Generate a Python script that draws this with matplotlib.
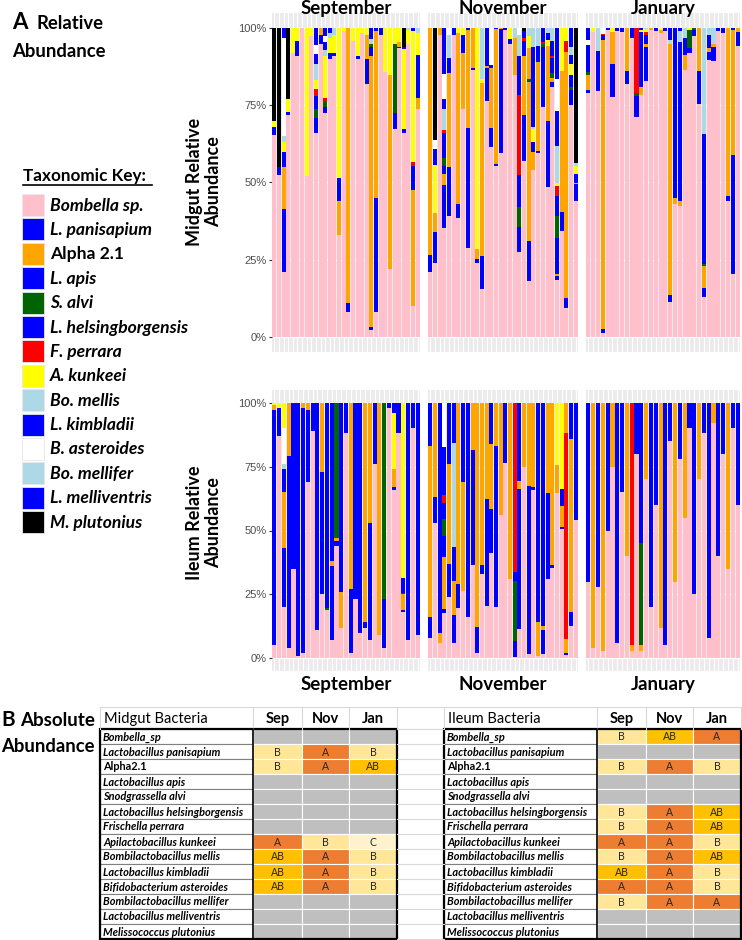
import matplotlib
matplotlib.use("Agg")
import matplotlib.pyplot as plt
from matplotlib.patches import Rectangle
import numpy as np

plt.rcParams['font.family'] = ['Lato', 'DejaVu Sans']

W, H = 742, 940

# ---- data -------------------------------------------------------------
taxa = ['Bombella sp.', 'L. panisapium', 'Alpha 2.1', 'L. apis', 'S. alvi',
        'L. helsingborgensis', 'F. perrara', 'A. kunkeei', 'Bo. mellis',
        'L. kimbladii', 'B. asteroides', 'Bo. mellifer', 'L. melliventris',
        'M. plutonius']
taxa_colors = ['#FFC0CB', '#0000FF', '#FFA500', '#0000FF', '#006400', '#0000FF',
               '#FF0000', '#FFFF00', '#ADD8E6', '#0000FF', '#FFFFFF', '#ADD8E6',
               '#0000FF', '#000000']
# segment codes -> colour (P Bombella, B Lactobacillus blues, O Alpha2.1,
# G S. alvi, R F. perrara, Y A. kunkeei, L Bo. mellis/mellifer, W B. asteroides, K M. plutonius)
seg_colors = {'P': '#FFC0CB', 'B': '#0000FF', 'O': '#FFA500', 'G': '#006400',
              'R': '#FF0000', 'Y': '#FFFF00', 'L': '#ADD8E6', 'W': '#FFFFFF',
              'K': '#000000'}

months = ['September', 'November', 'January']

# bars, bottom -> top, percent per segment
midgut_sep = [
    'P65.5 B2.5 Y2 K30', 'P52.5 B2.5 K45', 'P21 B20.5 O13.5 B5 Y3 L2 W32 B3',
    'P72 B1 Y4 K23', 'P92 Y8', 'P91 B5 Y4', 'P100', 'P52 Y48', 'P97.5 Y2.5',
    'P66 B5 G3 B4 R2.5 Y2.7 L5.4 B3.2 W2.7 B5.5', 'P95 B3 O2',
    'P72.5 B2 G2 R1 Y13.5 L2 B2.5 W2 B2.5', 'P90 B2 Y5 L1.5 B1.5',
    'P91 B1 Y6 L2', 'P33 O11 B7.5 Y48.5', 'P99 Y1', 'P8 B3 O89', 'P96 Y4',
    'P90 B1 Y9', 'P98.5 Y1.5', 'P82 B8 O8 Y2', 'P2 B1 O88 B3 G1 L1.5 B3.5',
    'P8 B37 O54 B1', 'P98 B2', 'P86 Y14', 'P22 O63 Y15', 'P67.5 B5 G22.5 Y5',
    'P93.5 B0.5 O1.5 Y4.5', 'P66 B1.5 Y25.7 B0.8 K6', 'P95 Y4.5 L0.5',
    'P10 O37.5 B8 R1 Y42.5 B1', 'P74 O3.5 B14 Y7 L1.5',
]
midgut_nov = [
    'P21 B5.5 O73.5', 'P24 B10 O6 Y15.7 B5.3 W2.8 K36.2', 'P98 O2',
    'P35 B14 O3.5 B2.7 G2.7 B8 R0.8 L7 B3.2 W8 B14.8', 'P39 B16 O30.5 B5 L7.5 W2',
    'P98 B2', 'P38.6 B4.3 O55.7 Y1.4', 'P74 O18 B6 Y2', 'P28.6 B39 O31.8 B0.6',
    'P86.5 B0.5 O13', 'P23.8 B1.4 O3.3 Y71.5', 'P15.6 B10.4 O56.3 Y1.3 L16.4',
    'P76.5 B10.8 O0.5 B12.2', 'P61.7 B6.2 O19.2 B1.1 W11.9', 'P55.4 B0.5 O43.9 B0.2',
    'P59.7 B40 O0.3', 'P99.5 B0.5', 'P95 B1.5 Y3.5', 'P85 O12 L3',
    'P27.6 B8.1 G6.2 B10.6 R25.9 B12.8 L6.5 W2.3', 'P57 B15 O19 B5 R1 B2 K1',
    'P18 B13 O51.5 G1 O10 Y4 L2.5', 'P54 O6 B3 Y4.5 L0.5 B26 L6',
    'P59.7 B0.5 O28.8 B5.4 L5.6', 'P74.5 B19.5 G1 R0.5 B4.5',
    'P48.4 B21.6 O24.4 Y2 B2 L1.6', 'P81 B1.5 O1.5 G1.5 B5 R0.5 B5 L4',
    'P18.4 B1.3 O0.5 B11.9 G7 B6.5 R3.2 Y1.1 L11.9 B11.4 W10.3 B16.5',
    'P34.3 B6 O46 Y13.7', 'P9.4 B3.2 O79.8 R3.6 Y4',
    'P75 B5 G1 B4 Y3.5 B3 L2.5 B6', 'P44 B5.4 O0.5 B2.7 Y2.7 L1.1 K43.6',
]
midgut_jan = [
    'P79 B1 O5 G1 B8.7 W1.6 B3.7', 'P98.7 Y1.3', 'P79.8 B13 L7.2',
    'P1.3 B1.1 O94 B1.5 R0.3 W1.8', 'P99.5 B0.5', 'P77.6 B10.8 O10.3 Y1.3',
    'P99 B1', 'P98.7 B1.3', 'P82 B4.3 O13.7', 'P97 B3', 'P71.1 B7.1 G0.8 R21',
    'P78.4 O2.5 B18 Y0.5 B0.6', 'P83 B11 O1 B2.7 R1 Y1 L0.3', 'P99.5 O0.5',
    'P99 B1', 'P98.5 O1 Y0.5', 'P99 B1', 'P11.3 B2.2 O81.3 L1.6 B3.6',
    'P43 O2 B55', 'P42.5 O1.6 B51.4 L3.8 B0.7', 'P86.6 O4.9 B5.3 L3.2',
    'P91.9 B1.6 G5.9 Y0.6', 'P97.5 B2 G0.5', 'P75.4 B10.8 O13.8',
    'P12.9 B3 O7 G0.5 B42.3 L34.3', 'P89.8 B2.4 O1.6 B4 L2.2', 'P89.5 B4.4 O1 L5.1',
    'P99 B1', 'P98.4 B1.6', 'P44 B1.6 O54.4', 'P20.2 B38.7 O40.6 B0.5',
    'P94.3 B4.6 O1.1',
]
ileum_sep = [
    'P5 B92 O2 Y1', 'P87 B11 Y2', 'P20 B23 O22 B9 L2 W14 Y10', 'P4 B75 O21',
    'P35 B65', 'P1 B99', 'P2 B96 O2', 'P69 B28 O3', 'P89 B11', 'P11 B89',
    'P25 B48 O27', 'P19 G0.5 B80.5', 'P7 B29 O2 B62', 'P44 B2 O1 G53',
    'P12 O14 B74', 'P88 B12', 'P2 B25 O73', 'P23 B77', 'P10 B90', 'P12 B2 O86',
    'P7 B46 O47', 'P76 B24', 'P9 O91', 'P4 B19 G77', 'P98 B2', 'P66 B1 O7 Y22 B4',
    'P88 B12', 'P18 B1 O6 G0.5 B6 Y68.5', 'P7 B93', 'P90 B10', 'P9 B91',
]
ileum_nov = [
    'P8 B8 O67 B17', 'P53 B10 O37', 'P6 O4 B90',
    'P17.6 B1.7 O20.4 B8.3 G6.6 B6 R3.3 B18.7 W17.4', 'P24 B13 O39 B24',
    'P6 B11 O13.2 B13.2 L40.8 B15.8', 'P19.8 B9.4 O70.8', 'P26.5 O42.4 B31.1',
    'P16 B84', 'P36.4 B45 O18.6', 'P2.2 B9.9 O87.9', 'P33 B3.3 O63.7',
    'P20.4 B41.9 O37.7', 'P41.3 B17 O25.4 B16.3', 'P20 B63 O17', 'P56 O44',
    'P76.6 B23.4', 'P31 O69', 'P0.6 B6 G23.7 B3.3 R66.4', 'P11.6 B54.6 O3.3 B30.5',
    'P75 O25', 'P1.7 B65.6 O32.7', 'P66 B1 O33', 'P1 O13.2 B85.8',
    'P1.6 B9.4 O1.7 B87.3', 'P30.9 B33.6 O35.5', 'P35.3 B1.1 O63.6',
    'P64.5 O11 Y24.5', 'P50.7 B0.6 O8.3 B6.6 Y33.8', 'P1.1 B1.1 O5.5 R80.5 O11.8',
    'P12.7 B5.5 O67.8 B14', 'P54 B46',
]
ileum_jan = [
    'P30 B70', 'P4 O96', 'P28 B72', 'P3 O97', 'P50 B50', 'P75 O25', 'P6 B94',
    'P65 B35', 'P40 O60', 'P3 O2 R95', 'P80 B20', 'P3 O2 G40 B55', 'P70 O30',
    'P20 B80', 'P60 B40', 'P12 O88', 'P5 B95', 'P85 B15', 'P30 O70', 'P78 B22',
    'P55 O45', 'P90 B10', 'P25 B75', 'P70 O30', 'P88 B12', 'P8 B92', 'P92 O8',
    'P40 B60', 'P80 B20', 'P35 O65', 'P90 B10', 'P60 B40',
]

# Absolute abundance tables
bact_names = ['Bombella_sp', 'Lactobacillus panisapium', 'Alpha2.1',
              'Lactobacillus apis', 'Snodgrassella alvi',
              'Lactobacillus helsingborgensis', 'Frischella perrara',
              'Apilactobacillus kunkeei', 'Bombilactobacillus mellis',
              'Lactobacillus kimbladii', 'Bifidobacterium asteroides',
              'Bombilactobacillus mellifer', 'Lactobacillus melliventris',
              'Melissococcus plutonius']
month_abbr = ['Sep', 'Nov', 'Jan']
midgut_letters = [['', '', ''], ['B', 'A', 'B'], ['B', 'A', 'AB'], ['', '', ''],
                  ['', '', ''], ['', '', ''], ['', '', ''], ['A', 'B', 'C'],
                  ['AB', 'A', 'B'], ['AB', 'A', 'B'], ['AB', 'A', 'B'],
                  ['', '', ''], ['', '', ''], ['', '', '']]
ileum_letters = [['B', 'AB', 'A'], ['', '', ''], ['B', 'A', 'B'], ['', '', ''],
                 ['', '', ''], ['B', 'A', 'AB'], ['B', 'A', 'AB'], ['A', 'A', 'B'],
                 ['B', 'A', 'AB'], ['AB', 'A', 'B'], ['A', 'A', 'B'], ['B', 'A', 'A'],
                 ['', '', ''], ['', '', '']]
letter_colors = {'A': '#ED7D31', 'AB': '#FFC000', 'B': '#FFE699', 'C': '#FFF2CC',
                 '': '#BFBFBF'}


def parse(bar):
    segs = [(s[0], float(s[1:])) for s in bar.split()]
    tot = sum(v for _, v in segs)
    return [(c, v / tot) for c, v in segs]


def px_axes(fig, x0, y0, x1, y1, **kw):
    return fig.add_axes([x0 / W, 1 - y1 / H, (x1 - x0) / W, (y1 - y0) / H], **kw)


def draw_panel(ax, bars, show_y):
    n = len(bars)
    for i, bar in enumerate(bars):
        bottom = 0.0
        for code, v in parse(bar):
            ax.bar(i, v, bottom=bottom, width=0.86, color=seg_colors[code],
                   linewidth=0, zorder=2)
            bottom += v
    ax.set_facecolor('#EBEBEB')
    ax.set_xlim(-0.5, n - 0.5)
    ax.set_ylim(-0.05, 1.05)
    ax.set_xticks(np.arange(n))
    ax.set_xticklabels([])
    ax.tick_params(axis='x', length=0)
    ax.set_yticks([0, 0.25, 0.5, 0.75, 1.0])
    ax.grid(True, color='white', linewidth=0.8, zorder=0)
    ax.set_axisbelow(True)
    for s in ax.spines.values():
        s.set_visible(False)
    if show_y:
        ax.set_yticklabels(['0%', '25%', '50%', '75%', '100%'],
                           family='Liberation Sans', fontsize=8, color='#4D4D4D')
        ax.tick_params(axis='y', length=2.5, width=0.8, color='#333333', pad=1.5)
    else:
        ax.set_yticklabels([])
        ax.tick_params(axis='y', length=0)


fig = plt.figure(figsize=(W / 100, H / 100), dpi=100)

panel_x = [(272, 420), (428, 578), (586, 740)]
midgut = [midgut_sep, midgut_nov, midgut_jan]
ileum = [ileum_sep, ileum_nov, ileum_jan]
for k, (x0, x1) in enumerate(panel_x):
    ax = px_axes(fig, x0, 13, x1, 352)
    draw_panel(ax, midgut[k], k == 0)
    ax2 = px_axes(fig, x0, 390, x1, 671)
    draw_panel(ax2, ileum[k], k == 0)

# overlay in pixel coordinates for text, legend and tables
ov = fig.add_axes([0, 0, 1, 1], zorder=5)
ov.set_xlim(0, W)
ov.set_ylim(H, 0)
ov.axis('off')
ov.patch.set_alpha(0)

for k, (x0, x1) in enumerate(panel_x):
    cx = (x0 + x1) / 2
    ov.text(cx, 14, months[k], ha='center', va='baseline', fontsize=13.5,
            fontweight='bold')
    ov.text(cx, 690, months[k], ha='center', va='baseline', fontsize=13.5,
            fontweight='bold')

ov.text(12, 29, 'A', fontsize=16, fontweight='bold', va='baseline')
ov.text(37, 29, 'Relative', fontsize=13.3, fontweight='bold', va='baseline')
ov.text(12, 57, 'Abundance', fontsize=13.3, fontweight='bold', va='baseline')

ov.text(204, 182, 'Midgut Relative\nAbundance', rotation=90, ha='center',
        va='center', fontsize=13, fontweight='bold', linespacing=1.2)
ov.text(204, 523, 'Ileum Relative\nAbundance', rotation=90, ha='center',
        va='center', fontsize=13, fontweight='bold', linespacing=1.2)

# legend
ov.text(23, 181, 'Taxonomic Key:', fontsize=12.3, fontweight='bold', va='baseline')
ov.plot([23, 152], [184.5, 184.5], color='black', linewidth=1.2)
for i, (name, col) in enumerate(zip(taxa, taxa_colors)):
    y = 194 + i * 24.4
    ov.add_patch(Rectangle((22, y), 22, 22, facecolor=col, edgecolor='#E8E8E8',
                           linewidth=0.6))
    style = 'normal' if name.startswith('Alpha') else 'italic'
    ov.text(50, y + 11.5, name, fontsize=12.6, fontweight='bold', fontstyle=style,
            va='center')

# panel B
ov.text(1, 726, 'B', fontsize=15, fontweight='bold', va='baseline')
ov.text(20, 726, 'Absolute', fontsize=13.5, fontweight='bold', va='baseline')
ov.text(1, 752, 'Abundance', fontsize=13.3, fontweight='bold', va='baseline')

row_h = 15.0
hdr_top, body_top = 707, 729


def draw_table(x_name, x_cols, title, letters):
    x_end = x_cols[-1]
    # header
    ov.plot([x_name, x_end], [hdr_top, hdr_top], color='#D9D9D9', linewidth=0.8)
    for xc in [x_name] + list(x_cols):
        ov.plot([xc, xc], [hdr_top, body_top], color='#D9D9D9', linewidth=0.8)
    ov.text(x_name + 4, (hdr_top + body_top) / 2 + 1, title, fontsize=10.5,
            va='center')
    for j, m in enumerate(month_abbr):
        ov.text((x_cols[j] + x_cols[j + 1]) / 2, (hdr_top + body_top) / 2 + 1, m,
                fontsize=10.5, fontweight='bold', ha='center', va='center')
    for i, name in enumerate(bact_names):
        y = body_top + i * row_h
        ov.add_patch(Rectangle((x_name, y), x_cols[0] - x_name, row_h,
                               facecolor='white', edgecolor='#808080', linewidth=0.8))
        style = 'normal' if name.startswith('Alpha') else 'italic'
        ov.text(x_name + 3, y + row_h / 2 + 0.5, name, fontsize=7.9, fontweight='bold',
                fontstyle=style, va='center')
        for j in range(3):
            lt = letters[i][j]
            ov.add_patch(Rectangle((x_cols[j], y), x_cols[j + 1] - x_cols[j], row_h,
                                   facecolor=letter_colors[lt], edgecolor='white',
                                   linewidth=0.8))
            if lt:
                ov.text((x_cols[j] + x_cols[j + 1]) / 2, y + row_h / 2 + 0.5, lt,
                        fontsize=7.6, ha='center', va='center', color='#262626')
    body_bot = body_top + 14 * row_h
    ov.add_patch(Rectangle((x_name, body_top), x_end - x_name, body_bot - body_top,
                           facecolor='none', edgecolor='black', linewidth=1.6))
    ov.plot([x_cols[0], x_cols[0]], [body_top, body_bot], color='black',
            linewidth=1.2)


draw_table(100, [253, 302, 349, 397], 'Midgut Bacteria', midgut_letters)
draw_table(444, [597, 646, 693, 741], 'Ileum Bacteria', ileum_letters)
# empty spreadsheet column between the tables
for i in range(15):
    y = body_top + i * row_h
    ov.plot([397, 444], [y, y], color='#D9D9D9', linewidth=0.8)
ov.plot([397, 444], [hdr_top, hdr_top], color='#D9D9D9', linewidth=0.8)

fig.savefig('out.png', dpi=100)
